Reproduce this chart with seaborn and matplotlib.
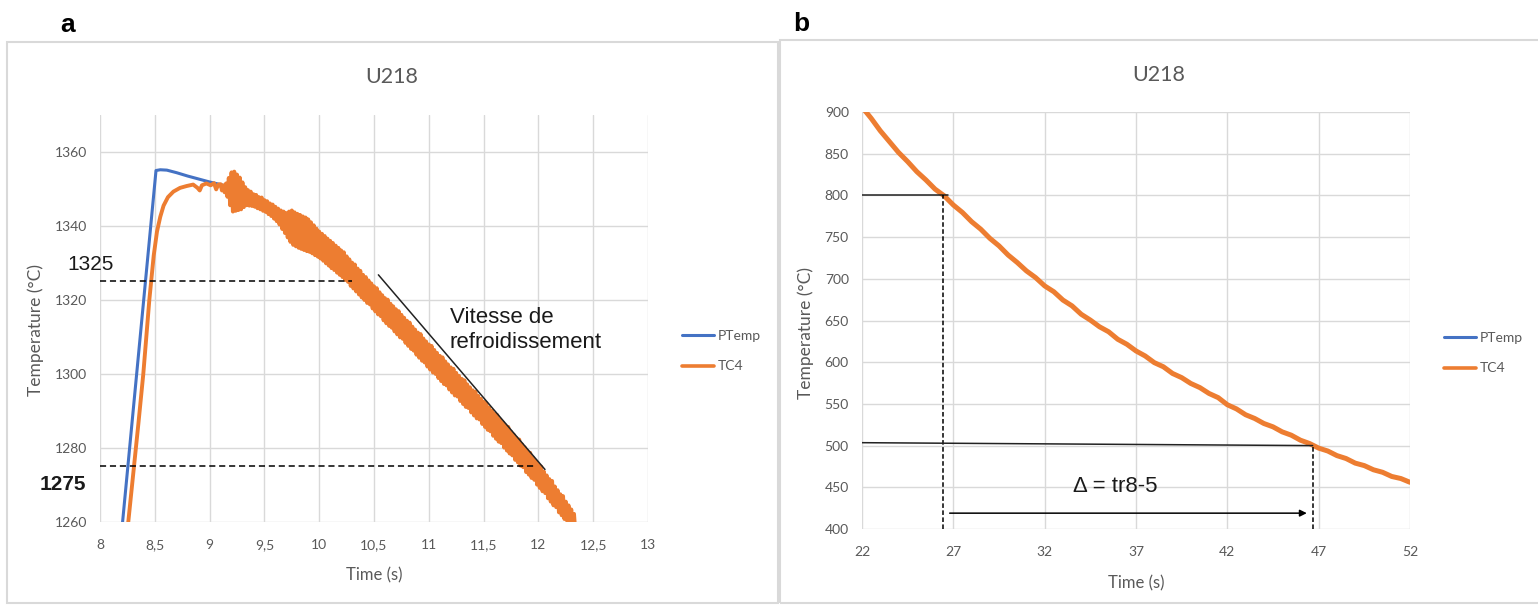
import numpy as np
import pandas as pd
import matplotlib
matplotlib.use("Agg")
import matplotlib.pyplot as plt
from matplotlib.lines import Line2D
from matplotlib.patches import Rectangle
import seaborn as sns

# ---------------- panel a : heating then cooling around the peak ----------------
ptemp_a_time = [8.19, 8.511, 8.55, 8.61, 8.70, 8.80, 8.90, 9.00, 9.10, 9.20, 9.40,
                9.60, 9.80, 10.00, 10.50, 11.00, 11.50, 12.00, 12.30, 12.35]
ptemp_a_temp = [1255.0, 1355.0, 1355.2, 1355.1, 1354.4, 1353.5, 1352.7, 1351.9, 1351.2,
                1350.3, 1347.8, 1344.6, 1339.8, 1335.0, 1320.5, 1304.8, 1289.3, 1272.6,
                1261.0, 1259.0]

tc4_rise_time = [8.250, 8.258, 8.30, 8.35, 8.395, 8.45, 8.49, 8.52, 8.55, 8.58, 8.62,
                 8.67, 8.73, 8.79, 8.85, 8.89, 8.91, 8.93, 8.97, 9.01, 9.04, 9.06, 9.08]
tc4_rise_temp = [1257.5, 1260.0, 1272.0, 1286.5, 1300.0, 1320.0, 1332.0, 1338.5, 1342.5,
                 1345.5, 1347.8, 1349.3, 1350.3, 1350.8, 1351.2, 1350.3, 1349.6, 1351.0,
                 1351.5, 1351.0, 1351.6, 1349.9, 1351.2]

# thermocouple readings every 12.5 ms once the oscillations start (one row = 0.1 s)
tc4_osc_start = 9.1
tc4_osc_step = 0.0125
tc4_osc_temp = [
    1351.3, 1349.6, 1351.0, 1349.1, 1351.5, 1347.9, 1353.0, 1345.6,   # 9.1
    1354.5, 1343.9, 1354.7, 1344.1, 1353.9, 1344.3, 1353.1, 1344.5,   # 9.2
    1351.8, 1345.1, 1350.5, 1345.6, 1349.7, 1345.5, 1349.3, 1345.4,   # 9.3
    1348.6, 1345.2, 1348.4, 1344.8, 1347.8, 1344.5, 1347.7, 1344.1,   # 9.4
    1347.0, 1343.8, 1346.7, 1343.2, 1346.1, 1342.7, 1345.8, 1342.0,   # 9.5
    1345.2, 1341.3, 1344.7, 1340.4, 1344.2, 1339.2, 1343.9, 1338.1,   # 9.6
    1343.5, 1336.9, 1343.9, 1335.7, 1344.2, 1334.9, 1343.7, 1334.5,   # 9.7
    1343.3, 1334.1, 1343.0, 1333.8, 1342.6, 1333.5, 1342.3, 1333.2,   # 9.8
    1341.8, 1333.0, 1341.0, 1332.6, 1340.2, 1332.1, 1339.3, 1331.7,   # 9.9
    1338.5, 1331.2, 1337.9, 1330.6, 1337.3, 1329.9, 1336.6, 1329.3,   # 10.0
    1336.0, 1328.6, 1335.4, 1328.1, 1334.7, 1327.4, 1334.1, 1326.8,   # 10.1
    1333.4, 1326.2, 1332.9, 1325.4, 1331.8, 1324.9, 1331.0, 1323.8,   # 10.2
    1330.1, 1323.1, 1329.6, 1322.3, 1328.5, 1321.5, 1327.9, 1320.7,   # 10.3
    1326.8, 1320.0, 1326.2, 1319.2, 1325.3, 1318.8, 1324.5, 1317.7,   # 10.4
    1323.7, 1316.9, 1323.2, 1316.1, 1322.1, 1315.6, 1321.3, 1314.5,   # 10.5
    1320.5, 1313.7, 1320.1, 1313.0, 1319.0, 1312.5, 1318.3, 1311.5,   # 10.6
    1317.5, 1310.7, 1317.0, 1309.9, 1316.0, 1309.5, 1315.2, 1308.4,   # 10.7
    1314.4, 1307.6, 1313.9, 1306.8, 1312.8, 1306.3, 1312.0, 1305.2,   # 10.8
    1311.2, 1304.4, 1310.8, 1303.6, 1309.6, 1303.1, 1308.8, 1302.0,   # 10.9
    1308.0, 1301.2, 1307.6, 1300.4, 1306.5, 1300.0, 1305.7, 1298.9,   # 11.0
    1304.9, 1298.1, 1304.5, 1297.3, 1303.4, 1296.9, 1302.6, 1295.8,   # 11.1
    1301.8, 1295.0, 1301.4, 1294.2, 1300.3, 1293.9, 1299.5, 1292.7,   # 11.2
    1298.7, 1291.9, 1298.3, 1291.1, 1297.2, 1290.8, 1296.4, 1289.6,   # 11.3
    1295.6, 1288.8, 1295.2, 1288.0, 1294.1, 1287.7, 1293.3, 1286.5,   # 11.4
    1292.5, 1285.7, 1292.1, 1284.9, 1290.9, 1284.5, 1290.1, 1283.3,   # 11.5
    1289.3, 1282.5, 1288.9, 1281.7, 1287.7, 1281.3, 1286.9, 1280.1,   # 11.6
    1286.1, 1279.3, 1285.7, 1278.5, 1284.4, 1278.0, 1283.6, 1276.8,   # 11.7
    1282.7, 1276.1, 1282.3, 1275.2, 1281.0, 1274.8, 1280.2, 1273.5,   # 11.8
    1279.2, 1272.8, 1278.7, 1271.9, 1277.4, 1271.4, 1276.5, 1270.1,   # 11.9
    1275.5, 1269.2, 1275.0, 1268.3, 1273.6, 1267.8, 1272.6, 1266.4,   # 12.0
    1271.6, 1265.5, 1271.1, 1264.5, 1269.6, 1264.0, 1268.6, 1262.6,   # 12.1
    1267.5, 1261.8, 1267.0, 1260.8, 1265.5, 1260.3, 1264.5, 1258.9,   # 12.2
    1263.4, 1258.0, 1262.2, 1257.0, 1256.0,                           # 12.3
]

a_levels = [1325, 1275]            # reference temperatures
a_level_ends = [10.30, 11.98]      # time where each dashed guide stops
a_slope_time = [10.54, 12.06]      # cooling-rate guide
a_slope_temp = [1326.8, 1274.2]

# ---------------- panel b : cooling from 800 to 500 °C ----------------
tc4_b_start = 22.0
tc4_b_step = 0.5
tc4_b_temp = [
    906.0, 892.5, 877.5, 864.5, 851.5, 840.5, 828.5, 818.5, 807.5, 799.5,   # 22
    788.5, 779.5, 768.5, 759.5, 748.5, 739.5, 728.5, 719.5, 709.5, 701.5,   # 27
    691.5, 684.5, 674.5, 667.5, 657.5, 650.5, 642.5, 636.5, 627.5, 621.5,   # 32
    613.5, 607.5, 599.5, 594.5, 586.5, 581.5, 574.5, 569.5, 562.5, 557.5,   # 37
    549.0, 544.0, 537.0, 532.5, 526.5, 522.5, 516.5, 512.5, 506.5, 502.5,   # 42
    497.0, 493.5, 488.0, 484.5, 479.0, 476.0, 471.0, 468.0, 463.0, 460.5,   # 47
    456.0,                                                                   # 52
]

b_t8 = 26.46        # time at 800 °C
b_t5 = 46.67        # time at 500 °C
b_level_800 = 800
b_line_500 = ([22.0, b_t5], [503.5, 500.0])
b_arrow = (26.8, 46.35, 419)
b_label_pos = (33.55, 450.7)

# ---------------- styling ----------------
BLUE = "#4472C4"
ORANGE = "#ED7D31"
GRID = "#D9D9D9"
TXT = "#595959"
XL_FONT = ["Lato", "DejaVu Sans"]
ANN_FONT = ["Liberation Sans", "DejaVu Sans"]

sns.set_theme(style="whitegrid")
plt.rcParams["font.family"] = XL_FONT
plt.rcParams["grid.color"] = GRID
plt.rcParams["grid.linewidth"] = 1.0

W, H = 1538, 605
fig = plt.figure(figsize=(W / 100, H / 100), dpi=100)


def fx(x):
    return x / W


def fy(y):
    return 1 - y / H


ax_a = fig.add_axes([fx(100), fy(522), fx(648) - fx(100), fy(115) - fy(522)])
ax_b = fig.add_axes([fx(862), fy(529), fx(1410) - fx(862), fy(112) - fy(529)])

# data frames for seaborn
df_pa = pd.DataFrame({"time": ptemp_a_time, "temp": ptemp_a_temp, "series": "PTemp"})
osc_time = tc4_osc_start + tc4_osc_step * np.arange(len(tc4_osc_temp))
df_ta = pd.DataFrame({"time": list(tc4_rise_time) + list(osc_time),
                      "temp": list(tc4_rise_temp) + list(tc4_osc_temp),
                      "series": "TC4"})
b_time = tc4_b_start + tc4_b_step * np.arange(len(tc4_b_temp))
df_tb = pd.DataFrame({"time": b_time, "temp": tc4_b_temp, "series": "TC4"})

line_kw = dict(estimator=None, sort=False, legend=False)
sns.lineplot(data=df_pa, x="time", y="temp", color=BLUE, lw=2.2, ax=ax_a, **line_kw)
sns.lineplot(data=df_ta, x="time", y="temp", color=ORANGE, lw=2.8, ax=ax_a, **line_kw)
sns.lineplot(data=df_tb, x="time", y="temp", color=ORANGE, lw=3.6, ax=ax_b, **line_kw)
for ln in ax_a.lines + ax_b.lines:
    ln.set_solid_joinstyle("round")
    ln.set_solid_capstyle("round")

# axes cosmetics
for ax in (ax_a, ax_b):
    for s in ax.spines.values():
        s.set_visible(False)
    ax.set_facecolor("white")
    ax.grid(True, color=GRID, lw=1.0)
    ax.tick_params(axis="both", length=0, labelsize=10, labelcolor=TXT)
    ax.tick_params(axis="x", pad=12.5)
    ax.tick_params(axis="y", pad=9.5)
    ax.set_xlabel("")
    ax.set_ylabel("")

a_xticks = [8, 8.5, 9, 9.5, 10, 10.5, 11, 11.5, 12, 12.5, 13]
ax_a.set_xlim(8, 13)
ax_a.set_ylim(1260, 1370)
ax_a.set_xticks(a_xticks)
ax_a.set_xticklabels([f"{v:g}".replace(".", ",") for v in a_xticks])
ax_a.set_yticks(np.arange(1260, 1361, 20))

b_xticks = [22, 27, 32, 37, 42, 47, 52]
ax_b.set_xlim(22, 52)
ax_b.set_ylim(400, 900)
ax_b.set_xticks(b_xticks)
ax_b.set_yticks(np.arange(400, 901, 50))

for ax in (ax_a, ax_b):
    for lab in ax.get_xticklabels() + ax.get_yticklabels():
        lab.set_family(XL_FONT)

# ---- panel a annotations ----
for lvl, end in zip(a_levels, a_level_ends):
    ax_a.plot([8.0, end], [lvl, lvl], color="black", lw=1.1, ls=(0, (4, 2.5)), zorder=5)
ax_a.plot(a_slope_time, a_slope_temp, color="#222222", lw=1.1, zorder=5)
ax_a.text(7.70, 1329.7, str(a_levels[0]), family=ANN_FONT, fontsize=15,
          color="#1a1a1a", ha="left", va="center", clip_on=False)
ax_a.text(7.45, 1270.0, str(a_levels[1]), family=ANN_FONT, fontsize=15,
          fontweight="bold", color="#1a1a1a", ha="left", va="center", clip_on=False)
ax_a.text(11.19, 1311.9, "Vitesse de\nrefroidissement", family=ANN_FONT,
          fontsize=16, color="#1a1a1a", ha="left", va="center", linespacing=1.3)

# ---- panel b annotations ----
ax_b.plot([22.0, 26.7], [b_level_800, b_level_800], color="#222222", lw=1.1, zorder=5)
ax_b.plot([b_t8, b_t8], [400, b_level_800], color="black", lw=1.1,
          ls=(0, (3, 1.6)), zorder=5)
ax_b.plot(b_line_500[0], b_line_500[1], color="#222222", lw=1.1, zorder=5)
ax_b.plot([b_t5, b_t5], [400, 500], color="black", lw=1.1, ls=(0, (3, 1.6)), zorder=5)
ax_b.annotate("", xy=(b_arrow[1], b_arrow[2]), xytext=(b_arrow[0], b_arrow[2]),
              arrowprops=dict(arrowstyle="-|>", color="black", lw=1.1,
                              mutation_scale=10, shrinkA=0, shrinkB=0), zorder=5)
ax_b.text(b_label_pos[0], b_label_pos[1], "\u0394 = tr8-5", family=ANN_FONT,
          fontsize=16, color="#1a1a1a", ha="left", va="center")

# ---- titles, axis labels, legends ----
for cx, cy in ((392, 77), (1159, 75)):
    fig.text(fx(cx), fy(cy), "U218", fontsize=15.5, color=TXT, ha="center",
             va="center", family=XL_FONT)
for cx, cy in ((36, 330), (806, 333)):
    fig.text(fx(cx), fy(cy), "Temperature (°C)", fontsize=12.5, color=TXT,
             rotation=90, ha="center", va="center", family=XL_FONT)
for cx, cy in ((374, 575), (1136, 583)):
    fig.text(fx(cx), fy(cy), "Time (s)", fontsize=12, color=TXT,
             ha="center", va="center", family=XL_FONT)

handles = [Line2D([], [], color=BLUE, lw=2.2), Line2D([], [], color=ORANGE, lw=2.6)]
for ax, lx, ly in ((ax_a, 682, 351), (ax_b, 1444, 353)):
    leg = ax.legend(handles, ["PTemp", "TC4"], loc="center left",
                    bbox_to_anchor=(fx(lx), fy(ly)), bbox_transform=fig.transFigure,
                    frameon=False, fontsize=10, handlelength=2.3, handletextpad=0.3,
                    labelspacing=1.35, borderaxespad=0, borderpad=0)
    for t in leg.get_texts():
        t.set_color(TXT)
        t.set_family(XL_FONT)

# panel letters
fig.text(fx(68), fy(25), "a", fontsize=19, fontweight="bold", ha="center",
         va="center", family=ANN_FONT, color="black")
fig.text(fx(801), fy(24), "b", fontsize=19, fontweight="bold", ha="center",
         va="center", family=ANN_FONT, color="black")

# chart-area frames
fig.add_artist(Rectangle((fx(7), fy(603)), fx(778) - fx(7), fy(42) - fy(603),
                         transform=fig.transFigure, fill=False, ec=GRID, lw=1.5))
fig.add_artist(Rectangle((fx(780), fy(603)), fx(1545) - fx(780), fy(40) - fy(603),
                         transform=fig.transFigure, fill=False, ec=GRID, lw=1.5))

fig.savefig("out.png", dpi=100, facecolor="white")
